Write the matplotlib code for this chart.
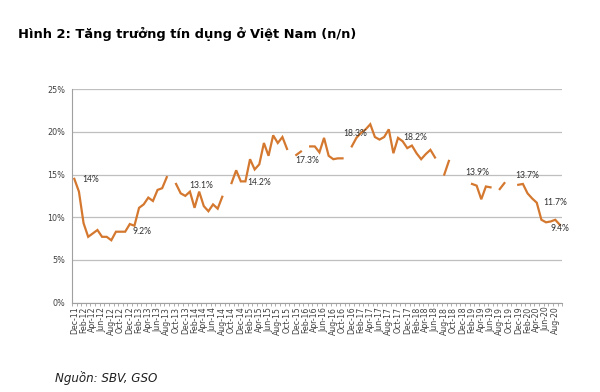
import numpy as np
import pandas as pd
from matplotlib import pyplot as plt
from matplotlib.ticker import FixedLocator

nan = np.nan

# month categories Dec-11 .. Sep-20
months = [d.strftime('%b-%y') for d in pd.date_range('2011-12-01', '2020-09-01', freq='MS')]

# credit growth y/y (%), gaps where the source has no value
credit = [
    14.5, 13.0, 9.3, 7.7, 8.1, 8.5, 7.7, 7.7, 7.3, 8.3, 8.3, 8.3,      # Dec-11 .. Nov-12
    9.2, 9.0, 11.1, 11.5, 12.3, 11.9, 13.2, 13.4, 14.7, nan, 13.9, 12.8,  # Dec-12 .. Nov-13
    12.5, 13.0, 11.1, 13.0, 11.3, 10.7, 11.5, 11.0, 12.4, nan, 14.0, 15.5,  # Dec-13 .. Nov-14
    14.2, 14.2, 16.8, 15.6, 16.2, 18.7, 17.2, 19.6, 18.7, 19.4, 18.0, nan,  # Dec-14 .. Nov-15
    17.3, 17.7, nan, 18.3, 18.3, 17.6, 19.3, 17.2, 16.8, 16.9, 16.9, nan,   # Dec-15 .. Nov-16
    18.3, 19.3, 19.9, 20.3, 20.9, 19.4, 19.1, 19.4, 20.3, 17.5, 19.3, 18.9,  # Dec-16 .. Nov-17
    18.1, 18.4, 17.5, 16.8, 17.4, 17.9, 17.0, nan, 15.0, 16.6, nan, nan,    # Dec-17 .. Nov-18
    nan, nan, 13.9, 13.7, 12.1, 13.6, 13.5, nan, 13.3, 14.0, nan, nan,      # Dec-18 .. Nov-19
    13.8, 13.9, 12.8, 12.2, 11.7, 9.7, 9.4, 9.5, 9.7, 9.1,                 # Dec-19 .. Sep-20
]

# labelled points: (month, text)
labels = [('Dec-11', '14%'), ('Dec-12', '9.2%'), ('Jan-14', '13.1%'), ('Dec-14', '14.2%'),
          ('Dec-15', '17.3%'), ('Dec-16', '18.3%'), ('Dec-17', '18.2%'), ('Feb-19', '13.9%'),
          ('Jan-20', '13.7%'), ('Apr-20', '11.7%'), ('Sep-20', '9.4%')]
# pixel offsets and alignment for each label
label_style = {
    '14%': (8, -1, 'left'), '9.2%': (3, -7, 'left'), '13.1%': (-1, 6, 'left'),
    '14.2%': (7, -1, 'left'), '17.3%': (-1, -6, 'left'), '18.3%': (3, 13, 'center'),
    '18.2%': (-4, 11, 'left'), '13.9%': (5, 11, 'center'), '13.7%': (4, 8, 'center'),
    '11.7%': (7, 0, 'left'), '9.4%': (0, -4, 'center'),
}

LINE = '#D4782F'
TXT = '#404040'

fig = plt.figure(figsize=(6, 3.92), dpi=100)
ax = fig.add_axes([0.12, 0.2283, 0.817, 0.544])

x = np.arange(len(months))
ax.plot(x, credit, color=LINE, lw=1.6, solid_joinstyle='miter')

ax.set_xlim(-0.5, len(months) - 0.5)
ax.set_ylim(0, 25)
ax.set_yticks([0, 5, 10, 15, 20, 25])
ax.set_yticklabels([f'{v}%' for v in [0, 5, 10, 15, 20, 25]], fontsize=5.8, color=TXT)
ax.yaxis.grid(True, color='#BFBFBF', lw=0.9)
ax.set_axisbelow(True)

ax.set_xticks(x[::2])
ax.set_xticklabels(months[::2], rotation=90, fontsize=5.6, color=TXT)
ax.xaxis.set_minor_locator(FixedLocator(np.arange(-0.5, len(months), 1)))
ax.tick_params(axis='x', which='major', length=0, pad=3)
ax.tick_params(axis='x', which='minor', length=2.5, color='#A0A0A0', width=0.6)
ax.tick_params(axis='y', length=0, pad=5)

for s in ['top', 'right']:
    ax.spines[s].set_visible(False)
for s in ['left', 'bottom']:
    ax.spines[s].set_color('#A0A0A0')
    ax.spines[s].set_linewidth(0.8)

for m, t in labels:
    i = months.index(m)
    dx, dy, ha = label_style[t]
    ax.annotate(t, (i, credit[i]), xytext=(dx, dy), textcoords='offset pixels',
                ha=ha, va='center', fontsize=6.2, color='#303030',
                family=['Lato', 'DejaVu Sans'], annotation_clip=False)

fig.text(18 / 600, 1 - 34 / 392, 'Hình 2: Tăng trưởng tín dụng ở Việt Nam (n/n)',
         fontsize=9.4, fontweight='bold', va='center', ha='left')
fig.text(55 / 600, 1 - 378 / 392, 'Nguồn: SBV, GSO', fontsize=8.6, style='italic',
         va='center', ha='left', color='#202020')

fig.savefig('out.png', dpi=100)
